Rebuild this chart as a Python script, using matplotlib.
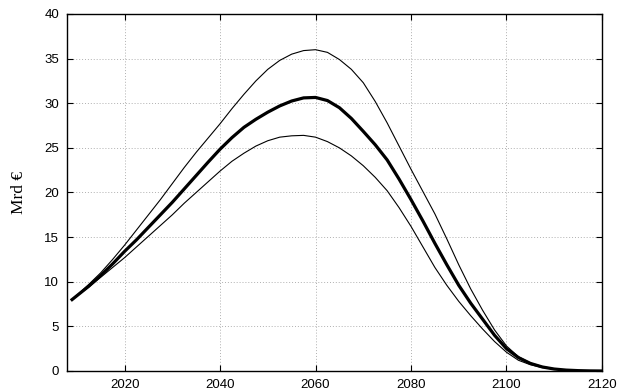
import matplotlib
matplotlib.use("Agg")
import matplotlib.pyplot as plt

# Jahre und Werte (Mrd EUR)
years = [2009, 2012.5, 2015, 2017.5, 2020, 2022.5, 2025, 2027.5, 2030, 2032.5,
         2035, 2037.5, 2040, 2042.5, 2045, 2047.5, 2050, 2052.5, 2055, 2057.5,
         2060, 2062.5, 2065, 2067.5, 2070, 2072.5, 2075, 2077.5, 2080, 2082.5,
         2085, 2087.5, 2090, 2092.5, 2095, 2097.5, 2100, 2102.5, 2105, 2107.5,
         2110, 2112.5, 2115, 2117.5, 2120]
mittel = [8.0, 9.5, 10.7, 12.0, 13.4, 14.7, 16.1, 17.5, 18.9, 20.4,
          21.9, 23.4, 24.85, 26.15, 27.3, 28.2, 29.0, 29.7, 30.25, 30.6,
          30.65, 30.3, 29.5, 28.3, 26.85, 25.35, 23.65, 21.5, 19.2, 16.8,
          14.3, 11.9, 9.6, 7.6, 5.8, 4.0, 2.5, 1.5, 0.85, 0.45,
          0.22, 0.1, 0.04, 0.01, 0.0]
oben = [8.0, 9.7, 11.0, 12.5, 14.1, 15.8, 17.5, 19.2, 21.0, 22.8,
        24.5, 26.1, 27.7, 29.4, 31.0, 32.5, 33.8, 34.8, 35.5, 35.9,
        36.0, 35.7, 34.9, 33.8, 32.3, 30.2, 27.8, 25.2, 22.6, 20.1,
        17.6, 14.8, 11.9, 9.2, 6.8, 4.6, 2.8, 1.6, 0.9, 0.5,
        0.25, 0.1, 0.04, 0.01, 0.0]
unten = [8.0, 9.4, 10.5, 11.6, 12.7, 13.9, 15.1, 16.3, 17.5, 18.8,
         20.0, 21.2, 22.4, 23.5, 24.4, 25.2, 25.8, 26.2, 26.35, 26.4,
         26.2, 25.7, 25.0, 24.1, 23.0, 21.7, 20.2, 18.3, 16.2, 13.9,
         11.6, 9.6, 7.8, 6.2, 4.7, 3.3, 2.1, 1.2, 0.7, 0.38,
         0.2, 0.09, 0.03, 0.01, 0.0]

x_ticks = [2020, 2040, 2060, 2080, 2100, 2120]
y_ticks = [0, 5, 10, 15, 20, 25, 30, 35, 40]

plt.rcParams['font.family'] = ['Liberation Sans', 'DejaVu Sans']

fig = plt.figure(figsize=(6.19, 3.92), dpi=100)
ax = fig.add_axes([0.1087, 0.0536, 0.8638, 0.9107])

ax.plot(years, oben, color='black', linewidth=0.8)
ax.plot(years, unten, color='black', linewidth=0.8)
ax.plot(years, mittel, color='black', linewidth=2.3)

ax.set_xlim(2008, 2120)
ax.set_ylim(0, 40)
ax.set_xticks(x_ticks)
ax.set_yticks(y_ticks)
ax.tick_params(direction='in', top=True, right=True, length=4, width=0.8,
               labelsize=9.5, pad=6)
ax.grid(True, color='#b0b0b0', linestyle=(0, (1, 2)), linewidth=0.7)
for s in ax.spines.values():
    s.set_linewidth(1.0)

ax.set_ylabel('Mrd €', fontsize=12.5, family=['Liberation Serif', 'DejaVu Serif'],
              labelpad=12)

fig.savefig('out.png', dpi=100)
